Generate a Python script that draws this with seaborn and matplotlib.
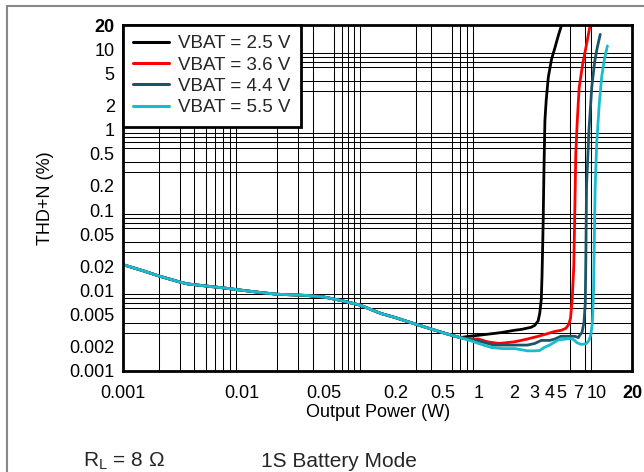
import numpy as np
import pandas as pd
import seaborn as sns
import matplotlib.pyplot as plt
import matplotlib.ticker as mticker
from matplotlib.patches import Rectangle

# common low-power part (all four supplies overlap here)
p_low = [0.001, 0.0015, 0.002, 0.003, 0.0035, 0.005, 0.007, 0.01, 0.015, 0.02,
         0.035, 0.05, 0.07, 0.1, 0.15, 0.2, 0.3, 0.5, 0.7]
thd_low = [0.021, 0.0175, 0.0152, 0.0128, 0.0121, 0.0114, 0.0108, 0.0101, 0.0094, 0.0090,
           0.0087, 0.0083, 0.0075, 0.0066, 0.0052, 0.0046, 0.0038, 0.0030, 0.0026]

# VBAT = 2.5 V
p_25 = [0.84, 1.05, 1.55, 2.0, 2.34, 2.8, 3.0, 3.2, 3.3, 3.4, 3.45, 3.5, 3.53,
        3.58, 3.65, 3.74, 3.9, 4.15, 4.44, 4.75, 5.05, 5.2]
thd_25 = [0.0027, 0.0028, 0.0030, 0.0032, 0.0033, 0.0035, 0.0037, 0.0042, 0.0052, 0.0077,
          0.015, 0.04, 0.075, 0.3, 1.3, 2.3, 4.5, 7.5, 10.5, 15, 20, 22]

# VBAT = 3.6 V
p_36 = [0.87, 1.0, 1.2, 1.5, 2.0, 2.3, 2.6, 3.2, 3.8, 4.4, 5.0, 5.5, 5.8, 6.0,
        6.2, 6.4, 6.55, 6.65, 6.85, 7.1, 7.6, 8.1, 8.8, 9.0]
thd_36 = [0.0025, 0.0025, 0.0023, 0.0022, 0.0023, 0.0024, 0.0025, 0.0027, 0.0029, 0.0031,
          0.0032, 0.0034, 0.0038, 0.0045, 0.0077, 0.02, 0.13, 0.5, 1.3, 3.3, 6.5, 10.5, 20, 22]

# VBAT = 4.4 V
p_44 = [0.97, 1.35, 1.78, 2.3, 2.6, 3.0, 3.4, 4.0, 4.44, 4.97, 5.65, 6.56, 7.0,
        7.2, 7.5, 7.8, 8.0, 8.1, 8.2, 8.6, 9.08, 9.6, 10.1, 10.7]
thd_44 = [0.0024, 0.0021, 0.0021, 0.0021, 0.0021, 0.0022, 0.0024, 0.0024, 0.0025, 0.0027,
          0.0027, 0.0027, 0.0026, 0.0028, 0.0030, 0.0040, 0.007, 0.03, 0.2, 1.0, 3.4, 7.0, 10.5, 15.3]

# VBAT = 5.5 V
p_55 = [0.87, 1.0, 1.29, 1.6, 2.03, 2.6, 3.0, 3.3, 3.6, 4.0, 4.73, 5.5, 6.14, 6.5,
        6.77, 7.3, 7.71, 8.2, 8.6, 8.9, 9.19, 9.4, 9.55, 9.7, 10.0, 10.5, 11.0, 11.6, 12.3]
thd_55 = [0.00237, 0.0022, 0.00196, 0.0019, 0.0019, 0.00178, 0.00178, 0.0018, 0.00196, 0.0021,
          0.00243, 0.0025, 0.00254, 0.0024, 0.00226, 0.00215, 0.00215, 0.0022, 0.0024, 0.0028,
          0.0040, 0.01, 0.05, 0.195, 0.7, 2.09, 4.5, 7.5, 11.0]

series_names = ["VBAT = 2.5 V", "VBAT = 3.6 V", "VBAT = 4.4 V", "VBAT = 5.5 V"]
series_colors = ["#000000", "#FF0000", "#1A5668", "#17BCCE"]

x_ticks = [0.001, 0.01, 0.05, 0.2, 0.5, 1, 2, 3, 4, 5, 7, 10, 20]
x_ticklabels = ["0.001", "0.01", "0.05", "0.2", "0.5", "1", "2", "3", "4", "5", "7", "10", "20"]
y_ticks = [0.001, 0.002, 0.005, 0.01, 0.02, 0.05, 0.1, 0.2, 0.5, 1, 2, 5, 10, 20]
y_ticklabels = ["0.001", "0.002", "0.005", "0.01", "0.02", "0.05", "0.1", "0.2", "0.5",
                "1", "2", "5", "10", "20"]

# build long table for seaborn
rows = []
for name, p, t in zip(series_names, [p_25, p_36, p_44, p_55], [thd_25, thd_36, thd_44, thd_55]):
    for xv, yv in zip(p_low + p, thd_low + t):
        rows.append((name, xv, yv))
df = pd.DataFrame(rows, columns=["VBAT", "Power", "THDN"])

sns.set_theme(style="white")
plt.rcParams["font.family"] = ["Liberation Sans", "DejaVu Sans"]
plt.rcParams["mathtext.fontset"] = "custom"
plt.rcParams["mathtext.rm"] = "Liberation Sans"

fig = plt.figure(figsize=(6.44, 4.72), dpi=100)
ax = fig.add_axes([0.191, 0.214, 0.791, 0.733])

sns.lineplot(data=df, x="Power", y="THDN", hue="VBAT", hue_order=series_names,
             palette=dict(zip(series_names, series_colors)), sort=False,
             estimator=None, linewidth=2.0, ax=ax, zorder=3)

ax.set_xscale("log")
ax.set_yscale("log")
ax.set_xlim(0.001, 20)
ax.set_ylim(0.001, 20)

# grid on every 1..9 x decade, labels only on chosen values
ax.xaxis.set_minor_locator(mticker.LogLocator(base=10, subs=np.arange(1, 10), numticks=50))
ax.yaxis.set_minor_locator(mticker.LogLocator(base=10, subs=np.arange(1, 10), numticks=50))
ax.xaxis.set_minor_formatter(mticker.NullFormatter())
ax.yaxis.set_minor_formatter(mticker.NullFormatter())
ax.set_xticks(x_ticks)
ax.set_xticklabels(x_ticklabels)
ax.set_yticks(y_ticks)
ax.set_yticklabels(y_ticklabels)
ax.grid(which="minor", color="black", linewidth=0.75, zorder=1)
ax.grid(which="major", visible=False)

ax.tick_params(axis="both", which="both", length=0, labelsize=13, colors="black")
ax.tick_params(axis="x", pad=10)
ax.tick_params(axis="y", pad=6)
for lbl in ax.get_xticklabels() + ax.get_yticklabels():
    if lbl.get_text() == "20":
        lbl.set_fontweight("bold")

for side in ["left", "right", "bottom", "top"]:
    ax.spines[side].set_color("black")
    ax.spines[side].set_linewidth(2)
    ax.spines[side].set_zorder(5)

ax.set_xlabel("Output Power (W)", fontsize=13, color="black")
ax.xaxis.set_label_coords(0.5, -0.095)
ax.set_ylabel("THD+N (%)", fontsize=13, color="black")
ax.yaxis.set_label_coords(-0.153, 0.5)
ax.yaxis.label.set_va("center")

# legend
old = ax.get_legend()
handles = old.legend_handles
labels = [t.get_text() for t in old.get_texts()]
old.remove()
for h in handles:
    h.set_linewidth(2.2)
leg = ax.legend(handles, labels, loc="upper left", bbox_to_anchor=(0, 1),
                borderaxespad=0, fontsize=13.5, frameon=True, fancybox=False,
                framealpha=1, edgecolor="black", handlelength=1.9,
                handletextpad=0.5, labelspacing=0.22, borderpad=0.55)
leg.get_frame().set_linewidth(2)
leg.set_zorder(6)

# notes below the chart
fig.text(0.129, 0.023, "R$_\\mathrm{L}$ = 8 \u03a9", fontsize=15, va="center", ha="left")
fig.text(0.405, 0.023, "1S Battery Mode", fontsize=15, va="center", ha="left")

# gray outer frame, cut off at right and bottom
fig.add_artist(Rectangle((7 / 644, -0.2), 1.5, 1.2 - 6 / 472, transform=fig.transFigure,
                         fill=False, edgecolor="#888888", linewidth=1.5))

fig.savefig("out.png", dpi=100)
